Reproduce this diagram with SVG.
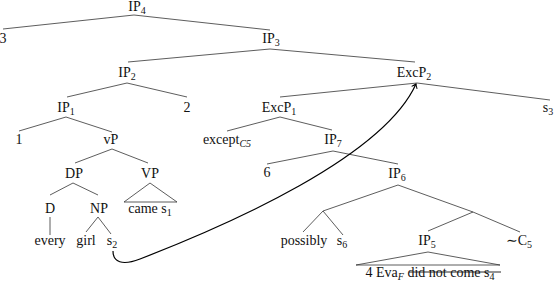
<svg xmlns="http://www.w3.org/2000/svg" width="554" height="282" viewBox="0 0 554 282">
<defs>
<style>
.t { font-family: "Liberation Serif", "Times New Roman", Times, "DejaVu Serif", "Noto Serif", serif; font-size: 14px; fill: #111; text-anchor: middle; }
.s { font-size: 10px; }
.i { font-style: italic; }
.e { stroke: #333; stroke-width: 0.8; fill: none; }
.mv { stroke: #000; stroke-width: 1.2; fill: none; }
.strike { stroke: #111; stroke-width: 0.9; }
</style>
<marker id="ah" viewBox="-5 -4 6 8" markerWidth="6" markerHeight="8" refX="0" refY="0" orient="auto" markerUnits="userSpaceOnUse">
<path d="M-4,-3 Q-1.5,-0.8 0,0 Q-1.5,0.8 -4,3" stroke="#000" stroke-width="1" fill="none"/>
</marker>
</defs>
<rect width="554" height="282" fill="#fff"/>
<g id="connectors">
<path class="e" d="M134,15 L3,29 M134,15 L270,30"/>
<path class="e" d="M270,49 L128,62 M270,49 L415,62"/>
<path class="e" d="M127,83 L67,97 M127,83 L187,97"/>
<path class="e" d="M417,83 L280,97 M417,83 L550,100"/>
<path class="e" d="M66,117 L19,131 M66,117 L112,132"/>
<path class="e" d="M280,117 L227,131 M280,117 L332,130"/>
<path class="e" d="M112,149 L75,163 M112,149 L148,163"/>
<path class="e" d="M333,151 L267,164 M333,151 L398,164"/>
<path class="e" d="M150,183 L124,202 L177,202 Z"/>
<path class="e" d="M73,183 L50,195 M73,183 L98,195"/>
<path class="e" d="M50,217 L50,235"/>
<path class="e" d="M98,217 L86,232 M98,217 L111,234"/>
<path class="e" d="M398,185 L323,211 M323,211 L303,232 M323,211 L343,235"/>
<path class="e" d="M398,185 L473,212 M473,212 L428,231 M473,212 L520,232"/>
<path class="e" d="M428,252 L356,265 L500,265 Z"/>
<path class="mv" d="M113,251 C113,262 122,266 140,259 C230,224 383,157 416,84" marker-end="url(#ah)"/>
</g>
<g id="n-ip4"><text class="t" x="137" y="11">IP<tspan class="s" dy="3">4</tspan></text></g>
<g id="n-3"><text class="t" x="3" y="43">3</text></g>
<g id="n-ip3"><text class="t" x="271" y="43">IP<tspan class="s" dy="3">3</tspan></text></g>
<g id="n-ip2"><text class="t" x="127" y="77">IP<tspan class="s" dy="3">2</tspan></text></g>
<g id="n-excp2"><text class="t" x="414" y="77">ExcP<tspan class="s" dy="3">2</tspan></text></g>
<g id="n-ip1"><text class="t" x="66" y="112">IP<tspan class="s" dy="3">1</tspan></text></g>
<g id="n-2"><text class="t" x="187" y="112">2</text></g>
<g id="n-excp1"><text class="t" x="279" y="112">ExcP<tspan class="s" dy="3">1</tspan></text></g>
<g id="n-s3"><text class="t" x="548" y="112">s<tspan class="s" dy="3">3</tspan></text></g>
<g id="n-1"><text class="t" x="19" y="144">1</text></g>
<g id="n-vp"><text class="t" x="111" y="144">vP</text></g>
<g id="n-except"><text class="t" x="227" y="144">except<tspan class="s i" dy="3">C5</tspan></text></g>
<g id="n-ip7"><text class="t" x="333" y="144">IP<tspan class="s" dy="3">7</tspan></text></g>
<g id="n-dp"><text class="t" x="74" y="178">DP</text></g>
<g id="n-vp2"><text class="t" x="150" y="178">VP</text></g>
<g id="n-6"><text class="t" x="267" y="177">6</text></g>
<g id="n-ip6"><text class="t" x="397" y="178">IP<tspan class="s" dy="3">6</tspan></text></g>
<g id="n-d"><text class="t" x="50" y="213">D</text></g>
<g id="n-np"><text class="t" x="99" y="213">NP</text></g>
<g id="n-came"><text class="t" x="150" y="213">came s<tspan class="s" dy="3">1</tspan></text></g>
<g id="n-every"><text class="t" x="50" y="245">every</text></g>
<g id="n-girl"><text class="t" x="86" y="245">girl</text></g>
<g id="n-s2"><text class="t" x="112" y="245">s<tspan class="s" dy="3">2</tspan></text></g>
<g id="n-possibly"><text class="t" x="304" y="245">possibly</text></g>
<g id="n-s6"><text class="t" x="342" y="245">s<tspan class="s" dy="3">6</tspan></text></g>
<g id="n-ip5"><text class="t" x="427" y="245">IP<tspan class="s" dy="3">5</tspan></text></g>
<g id="n-c5"><text class="t" x="519" y="245">∼C<tspan class="s" dy="3">5</tspan></text></g>
<g id="n-ip5-leaf"><text class="t" x="430" y="277">4 Eva<tspan class="s i" dy="3">F</tspan><tspan dy="-3"> did not come s</tspan><tspan class="s" dy="3">4</tspan></text>
<line class="strike" x1="409" y1="272" x2="501" y2="272"/></g>
</svg>
